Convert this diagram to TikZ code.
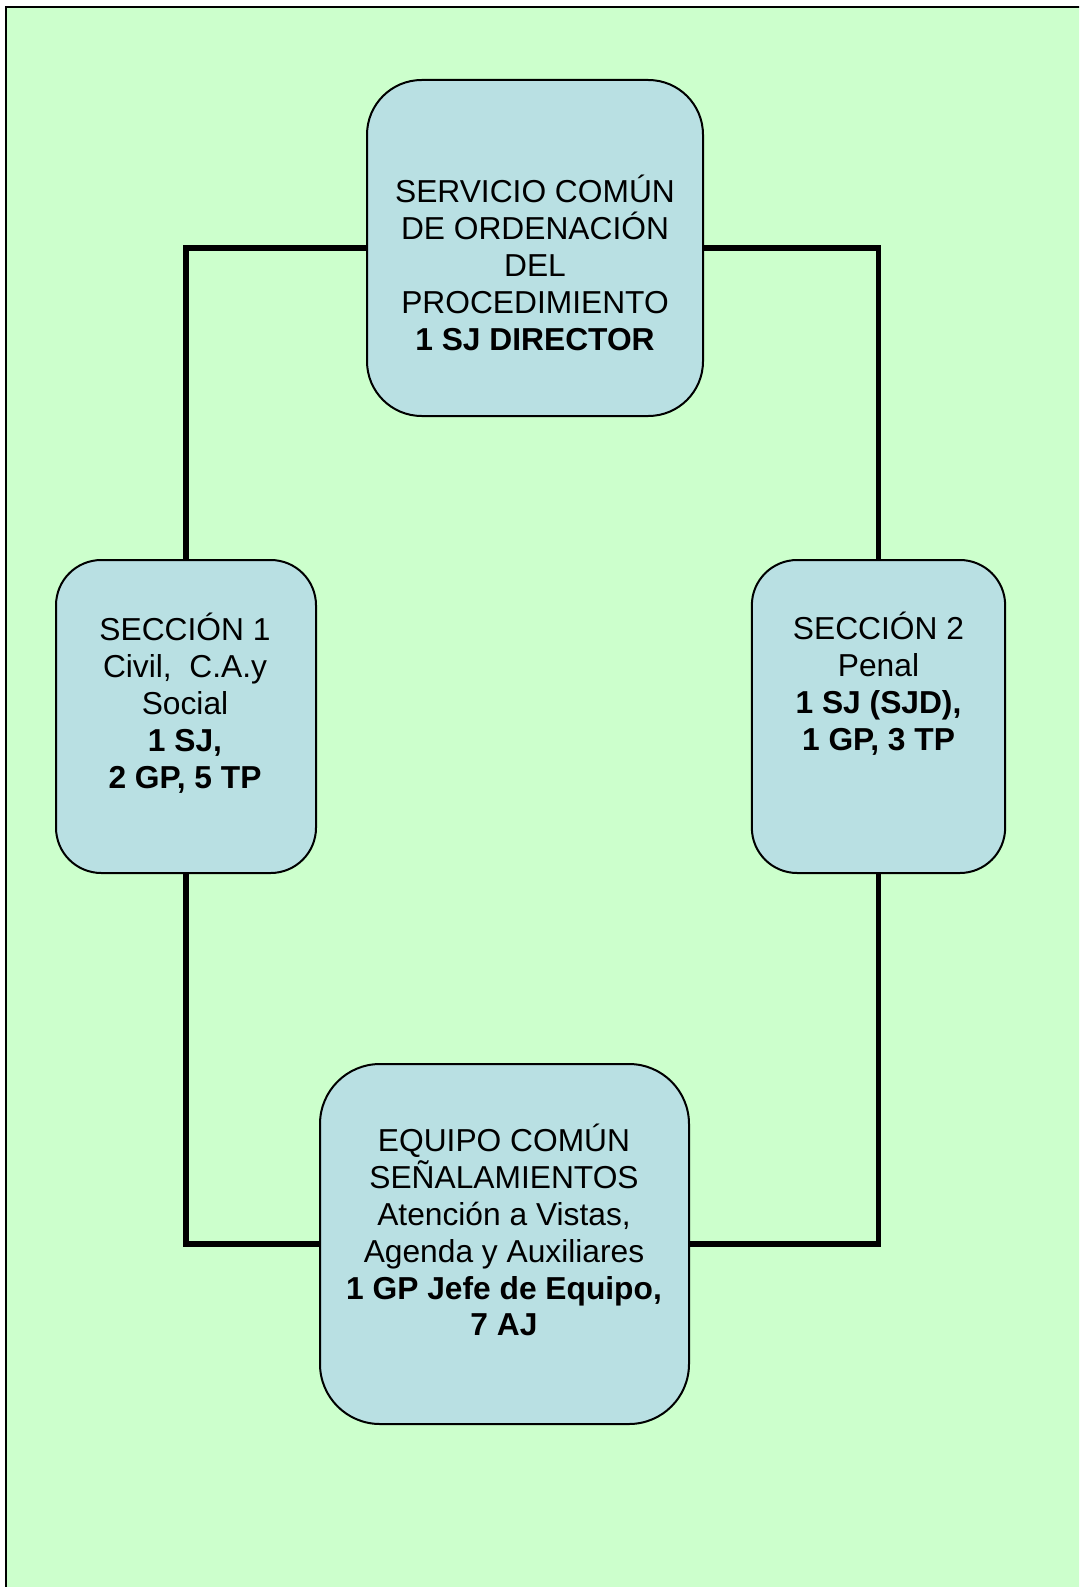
\documentclass[tikz,border=0pt]{standalone}
\usepackage{fontspec}
\setmainfont{Liberation Sans}
\definecolor{bggreen}{HTML}{CCFFCC}
\definecolor{boxblue}{HTML}{B9E0E3}
\begin{document}
\begin{tikzpicture}[x=0.75pt,y=-0.75pt,
  orgbox/.style={draw=black, line width=1.5pt, fill=boxblue, inner sep=0pt},
  link/.style={draw=black, line width=4pt},
  txt/.style={align=center, inner sep=0pt, font=\fontsize{23.8pt}{27.7pt}\selectfont}]
\useasboundingbox (0,0) rectangle (1079,1587);
\clip (0,0) rectangle (1079,1587);
\fill[white] (0,0) rectangle (1079,1587);
\draw[fill=bggreen, line width=1.5pt] (6,7) rectangle (1090,1600);
% boxes
\node[orgbox, rounded corners=41pt, minimum width=252pt, minimum height=252pt] (top) at (535,248) {};
\node[orgbox, rounded corners=34pt, minimum width=195pt, minimum height=234.75pt] (left) at (186,716.5) {};
\node[orgbox, rounded corners=34pt, minimum width=190pt, minimum height=234.75pt] (right) at (878.5,716.5) {};
\node[orgbox, rounded corners=45pt, minimum width=276.75pt, minimum height=270pt] (bottom) at (504.5,1244) {};
% connectors
\draw[link] (top.west) -| (left.north);
\draw[link] (top.east) -| (right.north);
\draw[link] (left.south) |- (bottom.west);
\draw[link] (right.south) |- (bottom.east);
% texts
\node[txt] (toptext) at (535,263) {SERVICIO COMÚN\\DE ORDENACIÓN\\DEL\\PROCEDIMIENTO\\\textbf{1 SJ DIRECTOR}};
\node[txt] (lefttext) at (185,703) {SECCIÓN 1\\Civil,~ C.A.y\\Social\\\textbf{1 SJ,}\\\textbf{2 GP, 5 TP}};
\node[txt] (righttext) at (878.5,684) {SECCIÓN 2\\Penal\\\textbf{1 SJ (SJD),}\\\textbf{1 GP, 3 TP}};
\node[txt] (bottomtext) at (504,1230) {EQUIPO COMÚN\\SEÑALAMIENTOS\\Atención a Vistas,\\Agenda y Auxiliares\\\textbf{1 GP Jefe de Equipo,}\\\textbf{7 AJ}};
\end{tikzpicture}
\end{document}
